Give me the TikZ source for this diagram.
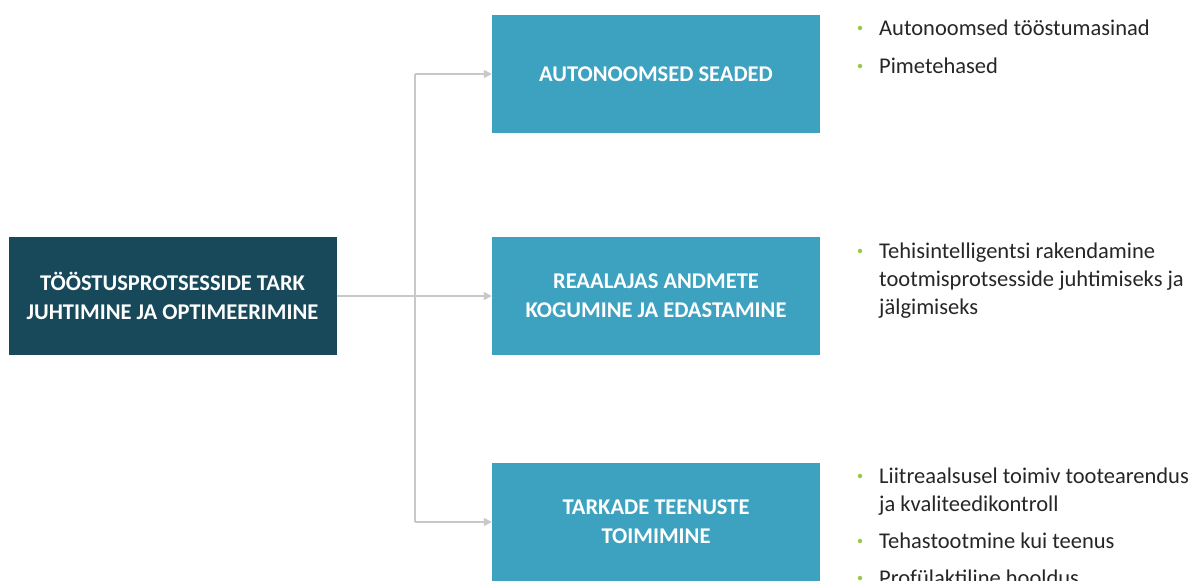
\documentclass[tikz,border=0pt]{standalone}
\usepackage{fontspec}
\setmainfont{Carlito}
\usetikzlibrary{arrows.meta}
\definecolor{darkteal}{HTML}{17495A}
\definecolor{lightteal}{HTML}{3DA2BF}
\definecolor{connc}{HTML}{C8C8C8}
\definecolor{bulletgreen}{HTML}{9BC84A}
\definecolor{txt}{HTML}{262626}
\begin{document}
\begin{tikzpicture}[x=1pt,y=-1pt,
  box/.style={minimum width=328pt, minimum height=118pt, inner sep=0pt, align=center, text=white, font=\fontsize{22.5}{29}\selectfont\bfseries},
  mainbox/.style={box, fill=darkteal},
  subbox/.style={box, fill=lightteal},
  conn/.style={draw=connc, line width=1.5pt},
  arr/.style={conn, -{Triangle[length=8pt,width=8pt]}},
  item/.style={anchor=base west, inner sep=0pt, align=left, text=txt, font=\fontsize{22.5}{28}\selectfont},
  dot/.style={circle, fill=bulletgreen, inner sep=0pt, minimum size=4.5pt}
]
\useasboundingbox (0,0) rectangle (1195,581);
\clip (0,0) rectangle (1195,581);

\node[mainbox] (main) at (172.5,296) {TÖÖSTUSPROTSESSIDE TARK\\JUHTIMINE JA OPTIMEERIMINE};
\node[subbox] (b1) at (656,74) {AUTONOOMSED SEADED};
\node[subbox] (b2) at (656,296) {REAALAJAS ANDMETE\\KOGUMINE JA EDASTAMINE};
\node[subbox] (b3) at (656,522) {TARKADE TEENUSTE\\TOIMIMINE};

\coordinate (trunk) at (415,296);
\draw[conn] (trunk |- b1) -- (trunk |- b3);
\draw[arr] (main.east) -- (b2.west);
\draw[arr] (trunk |- b1) -- (b1.west);
\draw[arr] (trunk |- b3) -- (b3.west);

% bullet text nodes: anchor base west = baseline of the LAST line
\node[dot] (d1) at (860,28) {};
\node[item] (i1) at (879,35) {Autonoomsed tööstumasinad};
\node[dot] (d2) at (860,66) {};
\node[item] (i2) at (879,73) {Pimetehased};

\node[dot] (d3) at (860,251) {};
\node[item] (i3) at (879,314) {Tehisintelligentsi rakendamine\\tootmisprotsesside juhtimiseks ja\\jälgimiseks};

\node[dot] (d4) at (860,476) {};
\node[item] (i4) at (879,511) {Liitreaalsusel toimiv tootearendus\\ja kvaliteedikontroll};
\node[dot] (d5) at (860,541) {};
\node[item] (i5) at (879,548) {Tehastootmine kui teenus};
\node[dot] (d6) at (860,578) {};
\node[item] (i6) at (879,585) {Profülaktiline hooldus};
\end{tikzpicture}
\end{document}
